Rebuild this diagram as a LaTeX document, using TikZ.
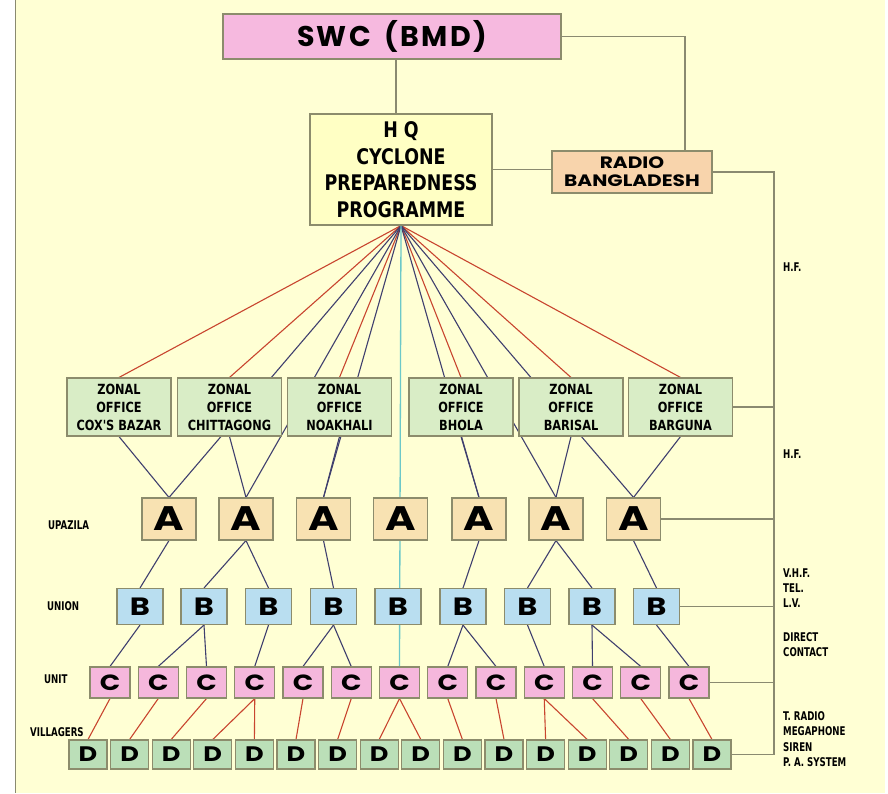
\documentclass[tikz,border=0pt]{standalone}
\usepackage{fontspec}
\newfontfamily\popf[LetterSpace=8]{Poppins}
\newfontfamily\popw[FakeStretch=1.22]{Poppins}
\newfontfamily\condf[FakeStretch=0.9]{DejaVu Sans Condensed}
\newfontfamily\condn[FakeStretch=0.8]{DejaVu Sans Condensed}
\pgfdeclarelayer{back}
\pgfdeclarelayer{edges}
\pgfsetlayers{back,edges,main}
\definecolor{bgy}{HTML}{FFFFD4}
\definecolor{boxline}{HTML}{8C8C6C}
\definecolor{grayl}{HTML}{8A8A70}
\definecolor{swcfill}{HTML}{F6B9DF}
\definecolor{hqfill}{HTML}{FFFFC4}
\definecolor{radiofill}{HTML}{F8D4AC}
\definecolor{zfill}{HTML}{D9EDC6}
\definecolor{afill}{HTML}{F8E2B2}
\definecolor{bfill}{HTML}{B9DEF0}
\definecolor{cfill}{HTML}{F5B7DC}
\definecolor{dfill}{HTML}{BBDFB8}
\definecolor{redc}{HTML}{C8452F}
\definecolor{navyc}{HTML}{3F3F6E}
\definecolor{tealc}{HTML}{6CC8C8}
\tikzset{
  box/.style={draw=boxline, line width=1.1pt, inner sep=0pt, anchor=center},
  swcbox/.style={box, fill=swcfill, minimum width=338pt, minimum height=45pt,
    font=\popf\bfseries\fontsize{28.5}{30}\selectfont},
  hqbox/.style={box, fill=hqfill, minimum width=182pt, minimum height=111pt, align=center,
    font=\condf\bfseries\fontsize{21.5}{26.6}\selectfont},
  radiobox/.style={box, fill=radiofill, minimum width=160pt, minimum height=42pt, align=center,
    font=\popw\bfseries\fontsize{16.5}{18}\selectfont},
  zonal/.style={box, fill=zfill, minimum width=104pt, minimum height=58pt, align=center,
    font=\condf\bfseries\fontsize{14}{18}\selectfont},
  abox/.style={box, fill=afill, minimum width=54pt, minimum height=42pt,
    font=\popw\bfseries\fontsize{34}{34}\selectfont},
  bbox/.style={box, fill=bfill, minimum width=46pt, minimum height=36pt,
    font=\popw\bfseries\fontsize{25}{25}\selectfont},
  cbox/.style={box, fill=cfill, minimum width=40pt, minimum height=31pt,
    font=\popw\bfseries\fontsize{22}{22}\selectfont},
  dbox/.style={box, fill=dfill, minimum width=38pt, minimum height=29pt,
    font=\popw\bfseries\fontsize{21}{21}\selectfont},
  lbl/.style={inner sep=0pt, anchor=west, align=left,
    font=\condn\bfseries\fontsize{12}{15.3}\selectfont},
  redl/.style={draw=redc, line width=1.1pt},
  navyl/.style={draw=navyc, line width=1.1pt},
  teall/.style={draw=tealc, line width=1.3pt},
  grayc/.style={draw=grayl, line width=1.2pt},
}
\begin{document}
\begin{tikzpicture}[x=1pt,y=-1pt]
\useasboundingbox (0,0) rectangle (888,793);
\begin{pgfonlayer}{back}
  \fill[white] (0,0) rectangle (888,793);
  \fill[bgy] (16,0) rectangle (885,793);
  \draw[grayc] (15.5,0) -- (15.5,793);
\end{pgfonlayer}

% top nodes
\node[swcbox] (swc) at (392,36.5) {SWC\hspace{14pt}(BMD)};
\node[hqbox] (hq) at (401,169.5) {H Q\\CYCLONE\\PREPAREDNESS\\PROGRAMME};
\node[radiobox] (radio) at (632,172) {RADIO\\BANGLADESH};

% zonal offices
\node[zonal] (Z1) at (119,407)   {ZONAL\\OFFICE\\COX'S BAZAR};
\node[zonal] (Z2) at (229.5,407) {ZONAL\\OFFICE\\CHITTAGONG};
\node[zonal] (Z3) at (339.5,407) {ZONAL\\OFFICE\\NOAKHALI};
\node[zonal] (Z4) at (461,407)   {ZONAL\\OFFICE\\BHOLA};
\node[zonal] (Z5) at (571,407)   {ZONAL\\OFFICE\\BARISAL};
\node[zonal] (Z6) at (680.5,407) {ZONAL\\OFFICE\\BARGUNA};

% levels
\foreach \x [count=\i] in {169,246,323.5,400.5,479,556,633.5}
  \node[abox] (A\i) at (\x,519) {A};
\foreach \x [count=\i] in {140,204,268.5,333.5,398,463,527.5,592,656.5}
  \node[bbox] (B\i) at (\x,606.5) {B};
\foreach \i in {1,...,13}
  \node[cbox] (C\i) at ({110+48.25*(\i-1)},682.5) {C};
\foreach \i in {1,...,16}
  \node[dbox] (D\i) at ({88+41.6*(\i-1)},754.5) {D};

% left labels
\node[lbl] (lupa) at (48,525) {UPAZILA};
\node[lbl] (luni) at (47,606) {UNION};
\node[lbl] (lunit) at (44,679) {UNIT};
\node[lbl] (lvil) at (30,732) {VILLAGERS};

% right labels
\node[lbl] (hf1) at (783,267) {H.F.};
\node[lbl] (hf2) at (783,454) {H.F.};
\node[lbl] (vhf) at (783,588) {V.H.F.\\TEL.\\L.V.};
\node[lbl] (dc) at (783,644.5) {DIRECT\\CONTACT};
\node[lbl] (tr) at (783,739) {T. RADIO\\MEGAPHONE\\SIREN\\P. A. SYSTEM};

\coordinate (kx) at (396,0);
\coordinate (rx) at (685,0);
\coordinate (bus) at (774,0);

\begin{pgfonlayer}{edges}
  % gray connectors
  \draw[grayc] (swc.south -| kx) -- (hq.north -| kx);
  \draw[grayc] (swc.east) -| (rx |- radio.north);
  \draw[grayc] (hq.east) -- (hq.east -| radio.west);
  \draw[grayc] (radio.east) -| (bus |- D16.east);
  \foreach \n in {Z6,A7,B9,C13,D16}
    \draw[grayc] (\n.east) -- (bus |- \n.east);
  % fan from HQ
  \foreach \z in {1,...,6}
    \draw[redl] (hq.south) -- (Z\z.north);
  \foreach \a in {1,2,3,5,6,7}
    \draw[navyl] (hq.south) -- (A\a.north);
  \draw[teall] (hq.south) -- (C7.north);
  % zonal to upazila
  \foreach \p/\c in {Z1/A1,Z2/A2,Z3/A3,Z4/A5,Z5/A6,Z6/A7}
    \draw[navyl] (\p.south) -- (\c.north);
  % upazila to union
  \foreach \p/\c in {A1/B1,A2/B2,A2/B3,A3/B4,A5/B6,A6/B7,A6/B8,A7/B9}
    \draw[navyl] (\p.south) -- (\c.north);
  % union to unit
  \foreach \p/\c in {B1/C1,B2/C2,B2/C3,B3/C4,B4/C5,B4/C6,B6/C8,B6/C9,B7/C10,B8/C11,B8/C12,B9/C13}
    \draw[navyl] (\p.south) -- (\c.north);
  % unit to villagers
  \foreach \p/\c in {C1/D1,C2/D2,C3/D3,C4/D4,C4/D5,C5/D6,C6/D7,C7/D8,C7/D9,C8/D10,C9/D11,C10/D12,C10/D13,C11/D14,C12/D15,C13/D16}
    \draw[redl] (\p.south) -- (\c.north);
\end{pgfonlayer}
\end{tikzpicture}
\end{document}
